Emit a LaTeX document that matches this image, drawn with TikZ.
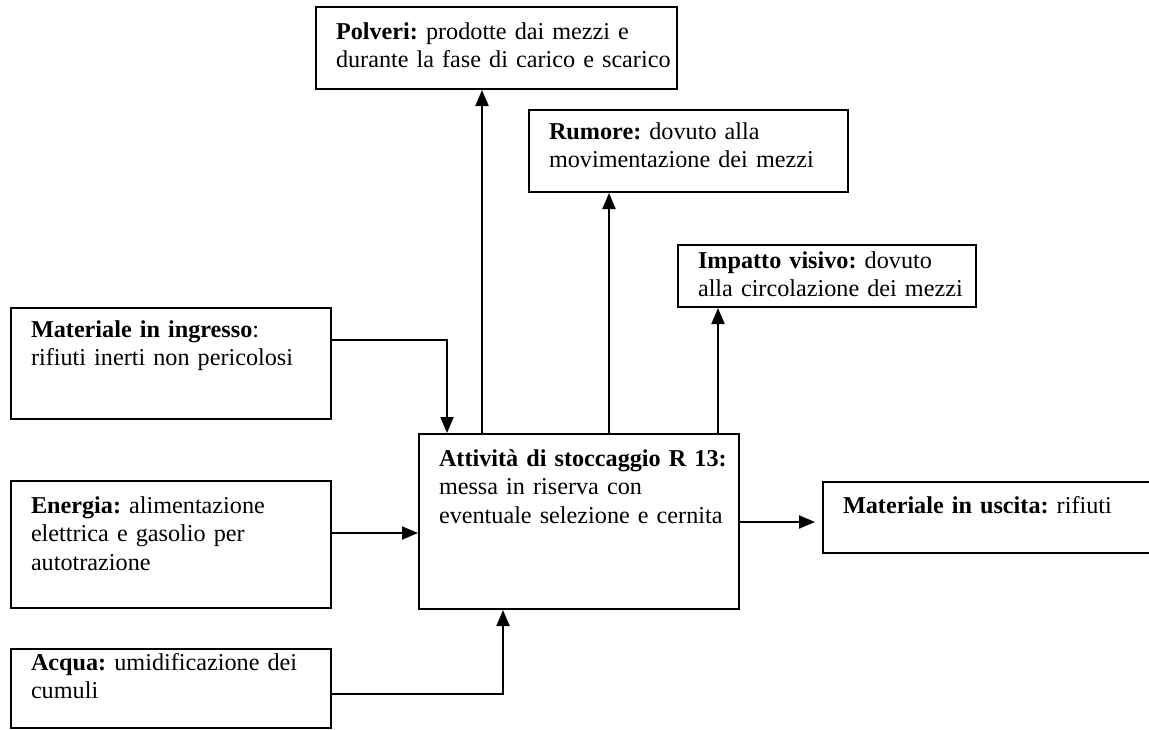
\documentclass[tikz,border=0pt]{standalone}
\usepackage{fontspec}
\setmainfont{Liberation Serif}
\usepackage{tikz}
\usetikzlibrary{arrows.meta,
                calc}
\tikzstyle{ebox} = [draw=black, line width=1pt, rectangle, anchor=north west, inner xsep=10pt, inner ysep=0pt, align=left, font=\fontsize{12.1pt}{14.4pt}\selectfont\frenchspacing]
\tikzstyle{arrow} = [line width=1pt, -{Triangle[length=8pt,width=6.5pt]}]

\begin{document}
\begin{tikzpicture}[x=0.5pt, y=-0.5pt]
\useasboundingbox (0,0) rectangle (1149,729);
% boxes
\node[ebox, text width=160.5pt, text height=16pt, text depth=25pt] (polveri) at (315,6)
  {\textbf{Polveri:} prodotte dai mezzi e\\\mbox{durante la fase di carico e scarico}};
\node[ebox, text width=139.5pt, text height=14.5pt, text depth=26.5pt] (rumore) at (528,109)
  {\textbf{Rumore:} dovuto alla\\\mbox{movimentazione dei mezzi}};
\node[ebox, text width=129pt, text height=11.5pt, text depth=19.5pt] (impatto) at (677,244)
  {\mbox{\textbf{Impatto visivo:} dovuto}\\\mbox{alla circolazione dei mezzi}};
\node[ebox, text width=140pt, text height=14.5pt, text depth=41pt] (ingresso) at (10,307)
  {\textbf{Materiale in ingresso}:\\\mbox{rifiuti inerti non pericolosi}};
\node[ebox, text width=140pt, text height=16pt, text depth=71.5pt] (center) at (418,433)
  {\mbox{\textbf{Attività di stoccaggio R 13:}}\\messa in riserva con\\\mbox{eventuale selezione e cernita}};
\node[ebox, text width=140pt, text height=16pt, text depth=47.5pt] (energia) at (10,480)
  {\textbf{Energia:} alimentazione\\elettrica e gasolio per\\autotrazione};
\node[ebox, text width=149pt, text height=15.5pt, text depth=20pt] (uscita) at (822,481)
  {\mbox{\textbf{Materiale in uscita:} rifiuti}};
\node[ebox, text width=140pt, text height=10.5pt, text depth=29pt] (acqua) at (10,648)
  {\mbox{\textbf{Acqua:} umidificazione dei}\\cumuli};
% connectors
\coordinate (inA) at ([yshift=-16.5pt]ingresso.north east);
\coordinate (inB) at ([xshift=14.5pt]center.north west);
\draw[arrow] (inA) -| (inB);
\coordinate (pvA) at ([xshift=32pt]center.north west);
\draw[arrow] (pvA) -- (pvA |- polveri.south);
\coordinate (ruA) at ([xshift=95.5pt]center.north west);
\draw[arrow] (ruA) -- (ruA |- rumore.south);
\coordinate (imA) at ([xshift=150pt]center.north west);
\draw[arrow] (imA) -- (imA |- impatto.south);
\coordinate (enA) at ([yshift=-26.5pt]energia.north east);
\draw[arrow] (enA) -- (enA -| center.west);
\coordinate (usA) at ([yshift=-44.5pt]center.north east);
\draw[arrow, shorten >=3.5pt] (usA) -- (usA -| uscita.west);
\coordinate (acA) at ([yshift=-23pt]acqua.north east);
\coordinate (acB) at ([xshift=42.5pt]center.south west);
\draw[arrow] (acA) -| (acB);
\end{tikzpicture}
\end{document}
